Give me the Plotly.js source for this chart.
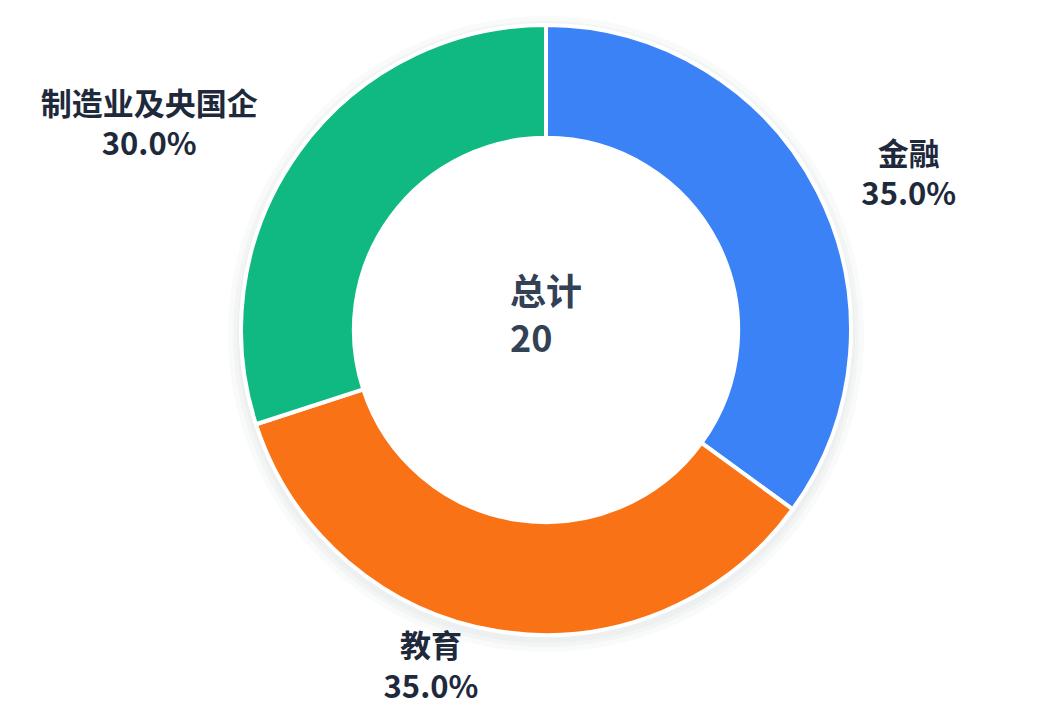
<!DOCTYPE html>
<html>
<head>
<meta charset="utf-8">
<script src="https://cdn.plot.ly/plotly-3.0.1.min.js"></script>
<style>
  html, body { margin: 0; padding: 0; background: #ffffff; }
  #chart { width: 1048px; height: 719px; }
</style>
</head>
<body>
<div id="chart"></div>
<script>
var labels = ["金融", "教育", "制造业及央国企"];
var counts = [7, 7, 6];
var colors = ["#3b82f6", "#f97316", "#10b981"];
var totalLabel = "总计";

var total = 0;
for (i = 0; i < counts.length; i++) {
    total += counts[i];
}

// plot area is 1004 x 660 px, donut centre sits in its middle
var areaW = 1004, areaH = 660;
function domainFor(r, dy) {
    return {
        x: [0.5 - r / areaW, 0.5 + r / areaW],
        y: [0.5 - (r + dy) / areaH, 0.5 + (r - dy) / areaH]
    };
}

// soft shadow under the ring, a few faint layers
var plotData = [];
var shadowSizes = [318, 313, 309];
for (i = 0; i < shadowSizes.length; i++) {
    plotData.push({
        type: "pie",
        values: [1],
        labels: ["shadow" + i],
        domain: domainFor(shadowSizes[i], 4),
        hole: 200 / shadowSizes[i],
        marker: {colors: ["rgba(15,23,42,0.025)"], line: {width: 0}},
        textinfo: "none",
        hoverinfo: "skip",
        sort: false,
        showlegend: false
    });
}

// the ring itself
plotData.push({
    type: "pie",
    labels: labels,
    values: counts,
    domain: domainFor(305, 0),
    hole: 0.63,
    sort: false,
    direction: "clockwise",
    rotation: 0,
    marker: {
        colors: colors,
        line: {color: "#ffffff", width: 4}
    },
    textinfo: "none",
    hoverinfo: "label+value+percent",
    showlegend: false
});

// invisible rings that only carry the outside labels
// (side labels sit further out, the bottom one closer so it stays on the page)
var labelText = "<b>%{label}</b><br><b>%{percent:.1%}</b>";
var labelRings = [
    {r: 342, show: [true, false, true]},
    {r: 296, show: [false, true, false]}
];
for (k = 0; k < labelRings.length; k++) {
    var templates = [];
    for (i = 0; i < labels.length; i++) {
        templates.push(labelRings[k].show[i] ? labelText : "");
    }
    plotData.push({
        type: "pie",
        labels: labels,
        values: counts,
        domain: domainFor(labelRings[k].r, 0),
        hole: 0.95,
        sort: false,
        direction: "clockwise",
        rotation: 0,
        marker: {
            colors: ["rgba(0,0,0,0)", "rgba(0,0,0,0)", "rgba(0,0,0,0)"],
            line: {width: 0}
        },
        textposition: "outside",
        texttemplate: templates,
        textfont: {family: "Noto Sans CJK SC", size: 31, color: "#1e293b"},
        hoverinfo: "skip",
        showlegend: false
    });
}

var layout = {
    width: 1048,
    height: 719,
    margin: {l: 44, r: 0, t: 0, b: 59},
    paper_bgcolor: "#ffffff",
    showlegend: false,
    annotations: [{
        x: 0.5, y: 0.5,
        xref: "paper", yref: "paper",
        xanchor: "center", yanchor: "middle",
        yshift: 18,
        align: "left",
        showarrow: false,
        text: "<b>" + totalLabel + "</b><br><b>" + total + "</b>",
        font: {family: "Noto Sans CJK SC", size: 36, color: "#334155"}
    }]
};

Plotly.newPlot("chart", plotData, layout, {displayModeBar: false});
</script>
</body>
</html>
